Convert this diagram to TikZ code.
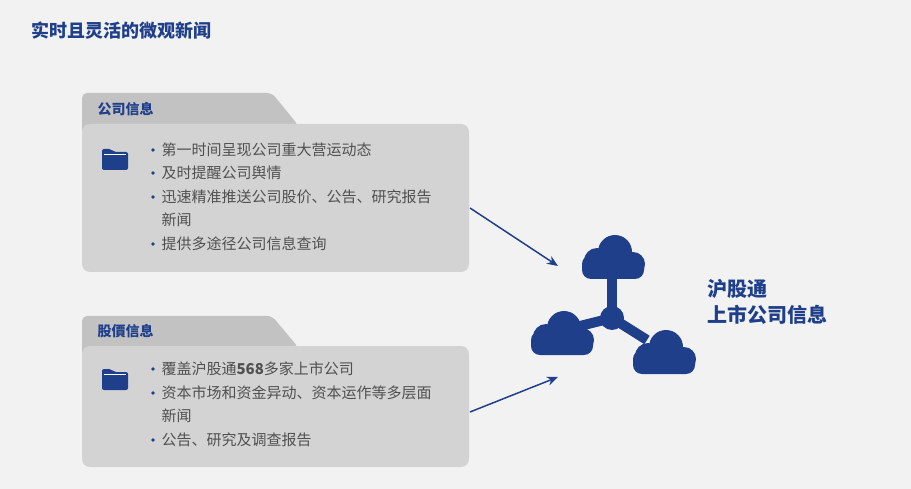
\documentclass[tikz,border=0pt]{standalone}
\usepackage{fontspec}
\setmainfont{Noto Sans CJK SC}
\usetikzlibrary{arrows.meta,positioning}
\definecolor{bgray}{HTML}{F2F2F3}
\definecolor{boxgray}{HTML}{D3D3D3}
\definecolor{tabgray}{HTML}{C2C2C2}
\definecolor{navy}{HTML}{1F3F8A}
\definecolor{txt}{HTML}{505050}
\newcommand{\cloudshape}[2]{%
  \fill[navy] (#1,#2) ++(-31,0) [rounded corners=9pt] rectangle ++(62,-24);
  \fill[navy] (#1,#2) ++(-16,-18) circle (13);
  \fill[navy] (#1,#2) ++(2,-27) circle (17);
  \fill[navy] (#1,#2) ++(20,-15) circle (12);}
\newcommand{\foldericon}[2]{%
  \fill[navy, rounded corners=2pt] (#1,#2) -- ++(0,-21) -- ++(9,0) -- ++(3,3) -- ++(14,0) -- ++(0,18) -- cycle;
  \fill[white] (#1,#2) ++(2,-16) rectangle ++(22,1.2);}
\begin{document}
\begin{tikzpicture}[x=1pt,y=-1pt,
    title/.style={anchor=west,text=navy,font=\bfseries\fontsize{18}{20}\selectfont},
    tabtxt/.style={anchor=west,text=navy,font=\bfseries\fontsize{14}{16}\selectfont},
    item/.style={anchor=west,text=txt,font=\fontsize{15}{16}\selectfont},
    dot/.style={navy,radius=1.8},
    arr/.style={navy,line width=1.5pt,-{Stealth[length=11pt,width=9pt]}}]
  \fill[bgray] (0,0) rectangle (911,489);
  \node[title] (head) at (28,31) {实时且灵活的微观新闻};
  % company info
  \fill[tabgray, rounded corners=5pt] (82,135) -- (82,93) -- (272,93) -- (298,125) -- (298,135) -- cycle;
  \fill[boxgray, rounded corners=8pt] (82,124) rectangle (469,272);
  \node[tabtxt] (tabA) at (94,109) {公司信息};
  \foldericon{102}{170}
  \foreach \y in {150,173,197,244} \fill[dot] (153,\y) circle;
  \node[item] (a1) at (158,150) {第一时间呈现公司重大营运动态};
  \node[item] (a2) at (158,173) {及时提醒公司舆情};
  \node[item] (a3) at (158,197) {迅速精准推送公司股价、公告、研究报告};
  \node[item] (a4) at (158,220) {新闻};
  \node[item] (a5) at (158,244) {提供多途径公司信息查询};
  % price info
  \fill[tabgray, rounded corners=5pt] (82,357) -- (82,316) -- (272,316) -- (298,347) -- (298,357) -- cycle;
  \fill[boxgray, rounded corners=8pt] (82,346) rectangle (469,467);
  \node[tabtxt] (tabB) at (94,331) {股價信息};
  \foldericon{102}{390}
  \foreach \y in {369,393,440} \fill[dot] (153,\y) circle;
  \node[item] (b1) at (158,369) {覆盖沪股通\textbf{568}多家上市公司};
  \node[item] (b2) at (158,393) {资本市场和资金异动、资本运作等多层面};
  \node[item] (b3) at (158,416) {新闻};
  \node[item] (b4) at (158,440) {公告、研究及调查报告};
  % clouds
  \draw[navy,line width=10pt] (612,318) -- (612,272);
  \draw[navy,line width=10pt] (612,318) -- (580,326);
  \draw[navy,line width=10pt] (612,318) -- (647,340);
  \fill[navy] (612,318) circle (12);
  \cloudshape{613}{279}
  \cloudshape{562}{355}
  \cloudshape{664}{374}
  \coordinate (hubA) at (558,266);
  \coordinate (hubB) at (558,377);
  \coordinate (fromA) at (470,208);
  \coordinate (fromB) at (470,412);
  \draw[arr] (fromA) -- (hubA);
  \draw[arr] (fromB) -- (hubB);
  \node[anchor=west,text=navy,align=left,font=\bfseries\fontsize{20}{26}\selectfont] (hk) at (704,302) {沪股通\\上市公司信息};
\end{tikzpicture}
\end{document}
